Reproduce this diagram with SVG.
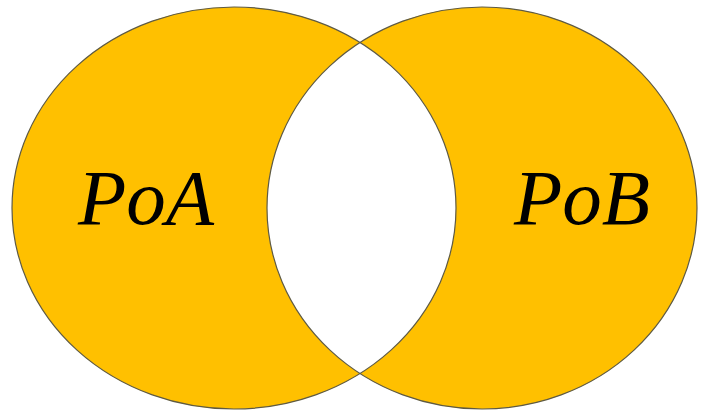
<svg xmlns="http://www.w3.org/2000/svg" width="701" height="412" viewBox="0 0 701 412">
<style>
.fill{fill:#FFC000;stroke:none}
.line{fill:none;stroke:#5E5A44;stroke-width:1.2}
.lbl{font-family:"Liberation Serif","Times New Roman",serif;font-style:italic;font-size:79px;fill:#000}
</style>
<defs>
<clipPath id="clipA"><ellipse cx="234" cy="208" rx="222" ry="201"/></clipPath>
</defs>
<rect width="701" height="412" fill="#fff"/>
<g id="PoA"><ellipse class="fill" cx="234" cy="208" rx="222" ry="201"/></g>
<g id="PoB"><ellipse class="fill" cx="482" cy="208" rx="215" ry="201"/></g>
<g id="overlap"><ellipse cx="482" cy="208" rx="215" ry="201" fill="#fff" clip-path="url(#clipA)"/></g>
<g id="outlines">
<ellipse class="line" cx="234" cy="208" rx="222" ry="201"/>
<ellipse class="line" cx="482" cy="208" rx="215" ry="201"/>
</g>
<text class="lbl" x="78" y="224">PoA</text>
<text class="lbl" x="514" y="224">PoB</text>
</svg>
